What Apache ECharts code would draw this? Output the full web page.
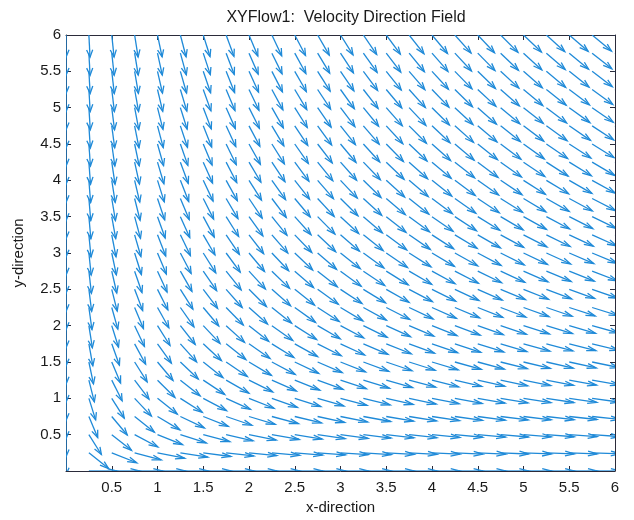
<!DOCTYPE html>
<html>
<head>
<meta charset="utf-8">
<script src="https://cdn.jsdelivr.net/npm/echarts@6/dist/echarts.min.js"></script>
<style>html,body{margin:0;padding:0;background:#fff}#c{width:634px;height:520px}</style>
</head>
<body>
<div id="c"></div>
<script>
// Grid positions (x and y) of the direction field
var xGrid = [0,0.25,0.5,0.75,1,1.25,1.5,1.75,2,2.25,2.5,2.75,3,3.25,3.5,3.75,4,4.25,4.5,4.75,5,5.25,5.5,5.75,6];
var yGrid = [0,0.25,0.5,0.75,1,1.25,1.5,1.75,2,2.25,2.5,2.75,3,3.25,3.5,3.75,4,4.25,4.5,4.75,5,5.25,5.5,5.75,6];
// Velocity components: u varies by column, v varies by row
var uByColumn = [0,0.25,0.5,0.75,1,1.25,1.5,1.75,2,2.25,2.5,2.75,3,3.25,3.5,3.75,4,4.25,4.5,4.75,5,5.25,5.5,5.75,6];
var vByRow = [0,-0.25,-0.5,-0.75,-1,-1.25,-1.5,-1.75,-2,-2.25,-2.5,-2.75,-3,-3.25,-3.5,-3.75,-4,-4.25,-4.5,-4.75,-5,-5.25,-5.5,-5.75,-6];
// Tick labels
var xTicks = ['0.5','1','1.5','2','2.5','3','3.5','4','4.5','5','5.5','6'];
var yTicks = ['0.5','1','1.5','2','2.5','3','3.5','4','4.5','5','5.5','6'];

var fieldData = [];
for (var i = 0; i < xGrid.length; i++) {
  for (var j = 0; j < yGrid.length; j++) {
    fieldData.push([xGrid[i], yGrid[j], uByColumn[i], vByRow[j]]);
  }
}

var arrowLen = 0.3055; // quiver autoscale length in data units
var alpha = 0.33, beta = 0.33;
var arrowColor = '#1f8ad8';

function renderItem(params, api) {
  var x = api.value(0), y = api.value(1), u = api.value(2), v = api.value(3);
  var m = Math.sqrt(u * u + v * v);
  if (m === 0) return null;
  u = u / m * arrowLen; v = v / m * arrowLen;
  var p0 = api.coord([x, y]);
  var p1 = api.coord([x + u, y + v]);
  var e = 1e-12;
  var h1 = api.coord([x + u - alpha * (u + beta * (v + e)), y + v - alpha * (v - beta * (u + e))]);
  var h2 = api.coord([x + u - alpha * (u - beta * (v + e)), y + v - alpha * (v + beta * (u + e))]);
  var style = { stroke: arrowColor, lineWidth: 1.3, fill: null };
  return {
    type: 'group',
    children: [
      { type: 'polyline', shape: { points: [p0, p1] }, style: style },
      { type: 'polyline', shape: { points: [h1, p1, h2] }, style: style }
    ]
  };
}

var fontFam = 'Liberation Sans, Arial, Helvetica, sans-serif';
function tickFmt(list) {
  return function (val) {
    var s = String(Math.round(val * 100) / 100);
    return list.indexOf(s) >= 0 ? s : '';
  };
}
var axisLineStyle = { color: '#2b2b3a', width: 1 };

var option = {
  animation: false,
  backgroundColor: '#ffffff',
  title: {
    text: 'XYFlow1:  Velocity Direction Field',
    left: 341, top: 5, textAlign: 'center',
    textStyle: { fontFamily: fontFam, fontSize: 16, fontWeight: 'normal', color: '#1a1a1a' }
  },
  grid: { left: 66, right: 19, top: 35, bottom: 49, containLabel: false },
  xAxis: [{
    type: 'value', min: 0, max: 6, interval: 0.5,
    name: 'x-direction', nameLocation: 'middle', nameGap: 27,
    nameTextStyle: { fontFamily: fontFam, fontSize: 15, color: '#1a1a1a' },
    axisLine: { show: true, onZero: false, lineStyle: axisLineStyle },
    axisTick: { show: true, inside: true, length: 5, lineStyle: axisLineStyle },
    axisLabel: { formatter: tickFmt(xTicks), fontFamily: fontFam, fontSize: 15, color: '#1a1a1a', margin: 9 },
    splitLine: { show: false }
  }, {
    type: 'value', min: 0, max: 6, interval: 0.5, position: 'top',
    axisLine: { show: true, onZero: false, lineStyle: axisLineStyle },
    axisTick: { show: true, inside: true, length: 5, lineStyle: axisLineStyle },
    axisLabel: { show: false }, splitLine: { show: false }
  }],
  yAxis: [{
    type: 'value', min: 0, max: 6, interval: 0.5,
    name: 'y-direction', nameLocation: 'middle', nameGap: 40, nameRotate: 90,
    nameTextStyle: { fontFamily: fontFam, fontSize: 15, color: '#1a1a1a' },
    axisLine: { show: true, onZero: false, lineStyle: axisLineStyle },
    axisTick: { show: true, inside: true, length: 5, lineStyle: axisLineStyle },
    axisLabel: { formatter: tickFmt(yTicks), fontFamily: fontFam, fontSize: 15, color: '#1a1a1a', margin: 5 },
    splitLine: { show: false }
  }, {
    type: 'value', min: 0, max: 6, interval: 0.5, position: 'right',
    axisLine: { show: true, onZero: false, lineStyle: axisLineStyle },
    axisTick: { show: true, inside: true, length: 5, lineStyle: axisLineStyle },
    axisLabel: { show: false }, splitLine: { show: false }
  }],
  series: [{
    type: 'custom',
    xAxisIndex: 0, yAxisIndex: 0,
    clip: true,
    renderItem: renderItem,
    data: fieldData,
    silent: true
  }]
};
echarts.init(document.getElementById('c')).setOption(option);
</script>
</body>
</html>
